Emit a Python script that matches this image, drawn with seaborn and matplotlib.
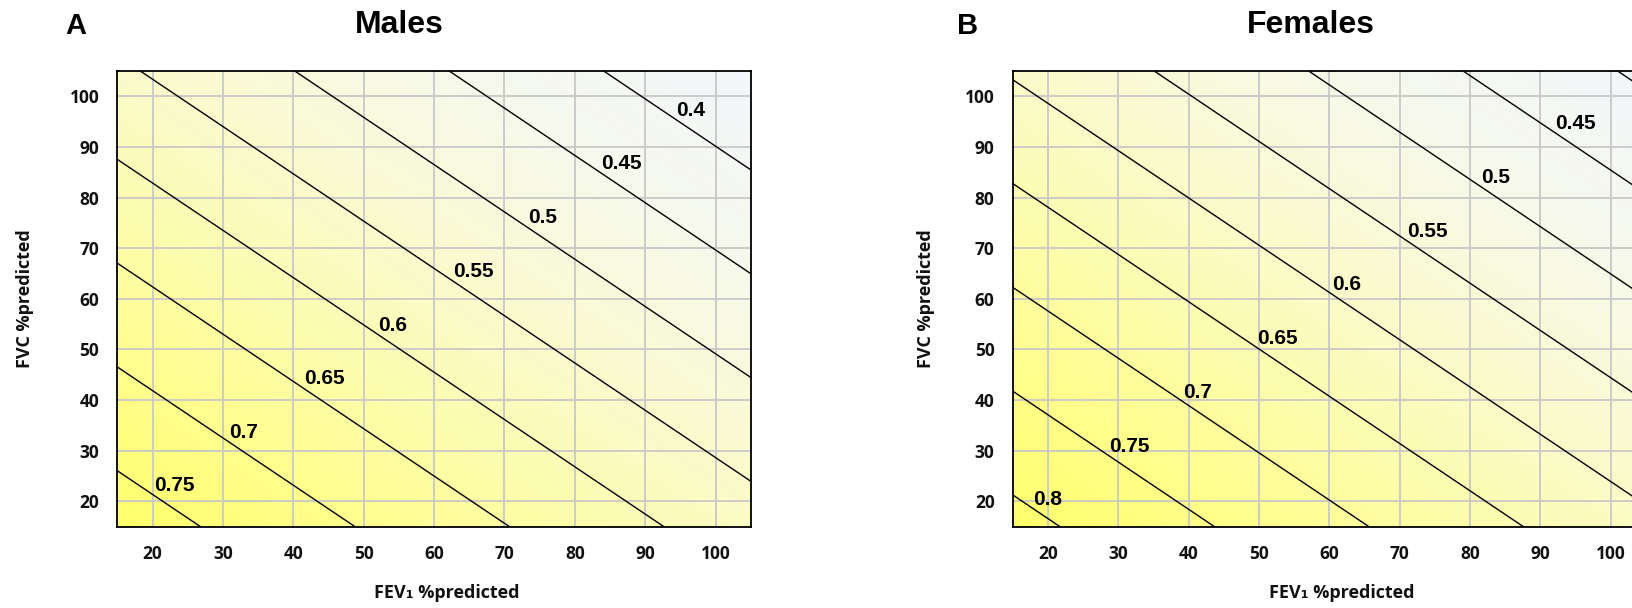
import numpy as np
import matplotlib
matplotlib.use("Agg")
import matplotlib.pyplot as plt
import seaborn as sns

# FEV1/FVC ratio surface: ratio = a - b*FEV1 - c*FVC
male_coef = [0.8477, 0.002278, 0.002439]
female_coef = [0.8861, 0.002278, 0.002439]

male_levels = [0.4, 0.45, 0.5, 0.55, 0.6, 0.65, 0.7, 0.75]
female_levels = [0.4, 0.45, 0.5, 0.55, 0.6, 0.65, 0.7, 0.75, 0.8]

# FEV1 value where each contour label starts
male_label_x = {0.75: 20.2, 0.7: 30.9, 0.65: 41.5, 0.6: 52.1, 0.55: 62.7, 0.5: 73.3, 0.45: 83.8, 0.4: 94.4}
female_label_x = {0.8: 17.9, 0.75: 28.7, 0.7: 39.2, 0.65: 49.8, 0.6: 60.4, 0.55: 71.0, 0.5: 81.5, 0.45: 92.1}

ticks = [20, 30, 40, 50, 60, 70, 80, 90, 100]

sns.set_style("whitegrid")
plt.rcParams['font.family'] = ['Open Sans', 'DejaVu Sans']
plt.rcParams['font.weight'] = 'bold'
plt.rcParams['text.color'] = 'black'
plt.rcParams['axes.labelcolor'] = '#111111'

cmap = sns.blend_palette(["#F2F6FB", "#F7F9EA", "#FBFBC8", "#FEFE9A", "#FFFF6C"], as_cmap=True)

fig = plt.figure(figsize=(16.32, 6.08), dpi=100)
ax1 = fig.add_axes([0.0719, 0.1337, 0.3881, 0.7495])
ax2 = fig.add_axes([0.6205, 0.1337, 0.3881, 0.7495])

fev = np.linspace(15, 105, 300)
fvc = np.linspace(15, 105, 300)
X, Y = np.meshgrid(fev, fvc)

panels = [(ax1, male_coef, male_levels, male_label_x, -0.131),
          (ax2, female_coef, female_levels, female_label_x, -0.123)]

for ax, coef, levels, label_x, ylab_x in panels:
    a, b, c = coef
    Z = a - b * X - c * Y
    ax.imshow(Z, extent=[15, 105, 15, 105], origin='lower', cmap=cmap,
              aspect='auto', interpolation='bilinear', zorder=0)
    ax.contour(X, Y, Z, levels=levels, colors='black', linewidths=1.0, zorder=3)
    for lv, x0 in label_x.items():
        y0 = (a - lv - b * x0) / c
        ax.text(x0, y0, f"{lv:g}", ha='left', va='bottom', fontsize=15,
                family='Liberation Sans', fontweight='bold', color='black', zorder=4)
    ax.set_xlim(15, 105)
    ax.set_ylim(15, 105)
    ax.set_xticks(ticks)
    ax.set_yticks(ticks)
    ax.set_axisbelow('line')
    ax.grid(True, color='#c8c8c8', linewidth=1.3)
    ax.tick_params(direction='out', length=6, width=1, color='#404040', pad=7,
                   labelsize=12.5, labelcolor='#111111')
    for s in ax.spines.values():
        s.set_color('black')
        s.set_linewidth(1.3)
    ax.set_xlabel("FEV₁ %predicted", fontsize=13, fontweight='bold')
    ax.set_ylabel("FVC %predicted", fontsize=13, fontweight='bold')
    ax.xaxis.set_label_coords(0.52, -0.126)
    ax.yaxis.set_label_coords(ylab_x, 0.5)

fig.text(0.2445, 0.945, "Males", ha='center', va='baseline', fontsize=23,
         family='Liberation Sans', fontweight='bold')
fig.text(0.8033, 0.945, "Females", ha='center', va='baseline', fontsize=23,
         family='Liberation Sans', fontweight='bold')
fig.text(0.0398, 0.944, "A", ha='left', va='baseline', fontsize=21,
         family='Liberation Sans', fontweight='bold')
fig.text(0.5864, 0.944, "B", ha='left', va='baseline', fontsize=21,
         family='Liberation Sans', fontweight='bold')

fig.savefig("out.png", dpi=100)
